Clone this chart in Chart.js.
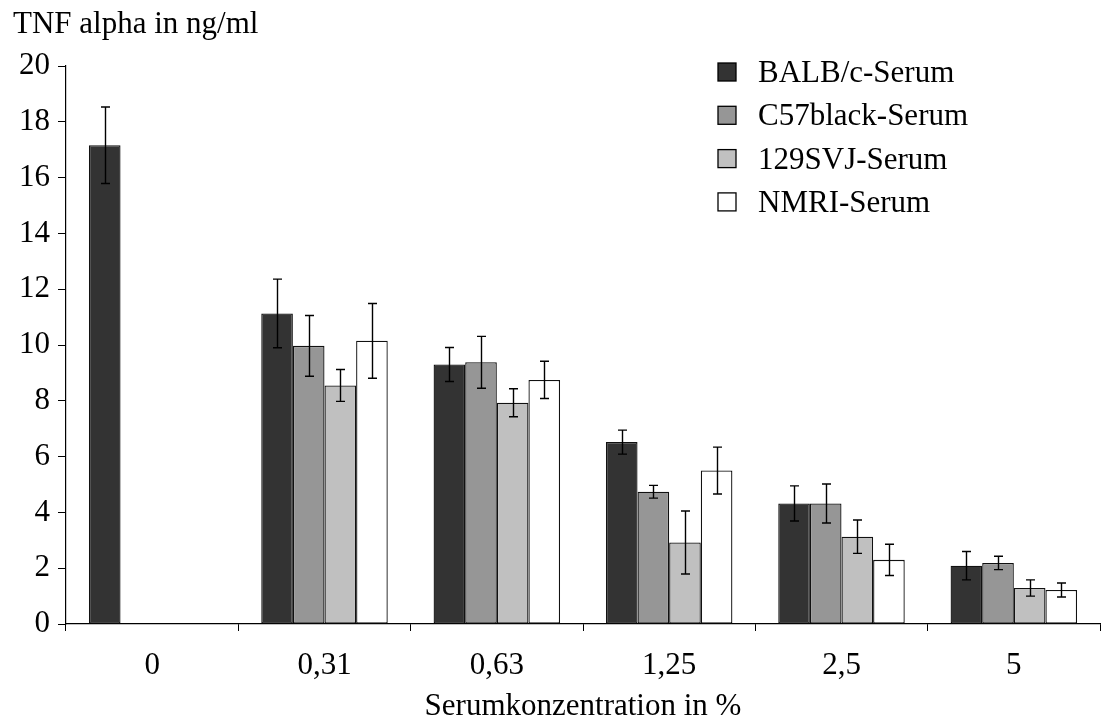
<!DOCTYPE html>
<html>
<head>
<meta charset="utf-8">
<script src="https://cdn.jsdelivr.net/npm/chart.js@4.4.1/dist/chart.umd.min.js"></script>
<style>
  html, body { margin: 0; padding: 0; background: #fff; }
  #wrap { width: 1102px; height: 722px; }
</style>
</head>
<body>
<div id="wrap"><canvas id="c" width="1102" height="722"></canvas></div>
<script>
const categories = ['0', '0,31', '0,63', '1,25', '2,5', '5'];
const seriesNames = ['BALB/c-Serum', 'C57black-Serum', '129SVJ-Serum', 'NMRI-Serum'];
const balb = [17.16, 11.13, 9.30, 6.52, 4.32, 2.09];
const c57 = [null, 9.97, 9.38, 4.74, 4.32, 2.19];
const svj = [null, 8.55, 7.93, 2.92, 3.13, 1.29];
const nmri = [null, 10.15, 8.75, 5.50, 2.30, 1.22];
const balbErr = [1.37, 1.23, 0.61, 0.43, 0.63, 0.51];
const c57Err = [null, 1.09, 0.93, 0.23, 0.70, 0.24];
const svjErr = [null, 0.57, 0.50, 1.13, 0.60, 0.29];
const nmriErr = [null, 1.34, 0.67, 0.84, 0.56, 0.25];
const yTicks = [0, 2, 4, 6, 8, 10, 12, 14, 16, 18, 20];
const colors = ['#333333', '#969696', '#c0c0c0', '#ffffff'];
const yTitle = 'TNF alpha in ng/ml';
const xTitle = 'Serumkonzentration in %';

const FONT = '"Liberation Serif", "Times New Roman", serif';

const values = [balb, c57, svj, nmri];
const errors = [balbErr, c57Err, svjErr, nmriErr];

const errorBarPlugin = {
  id: 'errorBars',
  afterDatasetsDraw(chart) {
    const ctx = chart.ctx;
    const y = chart.scales.y;
    ctx.save();
    ctx.strokeStyle = '#000';
    ctx.lineWidth = 1.4;
    chart.data.datasets.forEach((ds, di) => {
      const meta = chart.getDatasetMeta(di);
      meta.data.forEach((el, i) => {
        const v = ds.data[i];
        const e = ds.errors[i];
        if (v == null || e == null) return;
        const x = Math.round(el.x) + 0.5;
        const top = y.getPixelForValue(v + e);
        const bot = y.getPixelForValue(v - e);
        ctx.beginPath();
        ctx.moveTo(x, top); ctx.lineTo(x, bot);
        ctx.moveTo(x - 4.5, top); ctx.lineTo(x + 4.5, top);
        ctx.moveTo(x - 4.5, bot); ctx.lineTo(x + 4.5, bot);
        ctx.stroke();
      });
    });
    ctx.restore();
  }
};

const textPlugin = {
  id: 'extraText',
  afterDraw(chart) {
    const ctx = chart.ctx;
    ctx.save();
    ctx.fillStyle = '#000';
    ctx.font = '31px ' + FONT;
    ctx.textBaseline = 'alphabetic';
    ctx.textAlign = 'left';
    ctx.fillText(yTitle, 13, 33);
    // legend
    chart.data.datasets.forEach((ds, i) => {
      const cy = 72 + i * 43.3;
      ctx.fillStyle = ds.backgroundColor;
      ctx.fillRect(718, cy - 9, 18, 18);
      ctx.strokeStyle = '#000';
      ctx.lineWidth = 1.3;
      ctx.strokeRect(718, cy - 9, 18, 18);
      ctx.fillStyle = '#000';
      ctx.textBaseline = 'middle';
      ctx.fillText(ds.label, 758, cy + 2);
    });
    ctx.restore();
  }
};

new Chart(document.getElementById('c'), {
  type: 'bar',
  data: {
    labels: categories,
    datasets: seriesNames.map((name, i) => ({
      label: name,
      data: values[i],
      errors: errors[i],
      backgroundColor: colors[i],
      borderColor: '#111',
      borderWidth: 1.3,
      borderSkipped: false,
      categoryPercentage: 0.734,
      barPercentage: 1.0
    }))
  },
  options: {
    responsive: false,
    animation: false,
    devicePixelRatio: 1,
    layout: { padding: { top: 66, right: 2, left: 0, bottom: 0 } },
    plugins: {
      legend: { display: false },
      title: { display: false },
      tooltip: { enabled: false }
    },
    scales: {
      x: {
        grid: { display: true, drawOnChartArea: false, drawTicks: true, tickLength: 7, color: '#000', offset: true },
        border: { display: true, color: '#000', width: 1.2 },
        ticks: { color: '#000', font: { family: FONT, size: 31 }, padding: 16, maxRotation: 0 },
        title: { display: true, text: xTitle, color: '#000', font: { family: FONT, size: 31, lineHeight: 1.0 }, padding: { top: 0, bottom: 0 } },
        afterFit(scale) { scale.height = 98; }
      },
      y: {
        min: 0, max: 20,
        afterBuildTicks(scale) { scale.ticks = yTicks.map(v => ({ value: v })); },
        grid: { display: true, drawOnChartArea: false, drawTicks: true, tickLength: 8, color: '#000' },
        border: { display: true, color: '#000', width: 1.2 },
        ticks: { color: '#000', font: { family: FONT, size: 31 }, padding: 8 },
        afterFit(scale) { scale.width = 66; }
      }
    }
  },
  plugins: [errorBarPlugin, textPlugin]
});
</script>
</body>
</html>
